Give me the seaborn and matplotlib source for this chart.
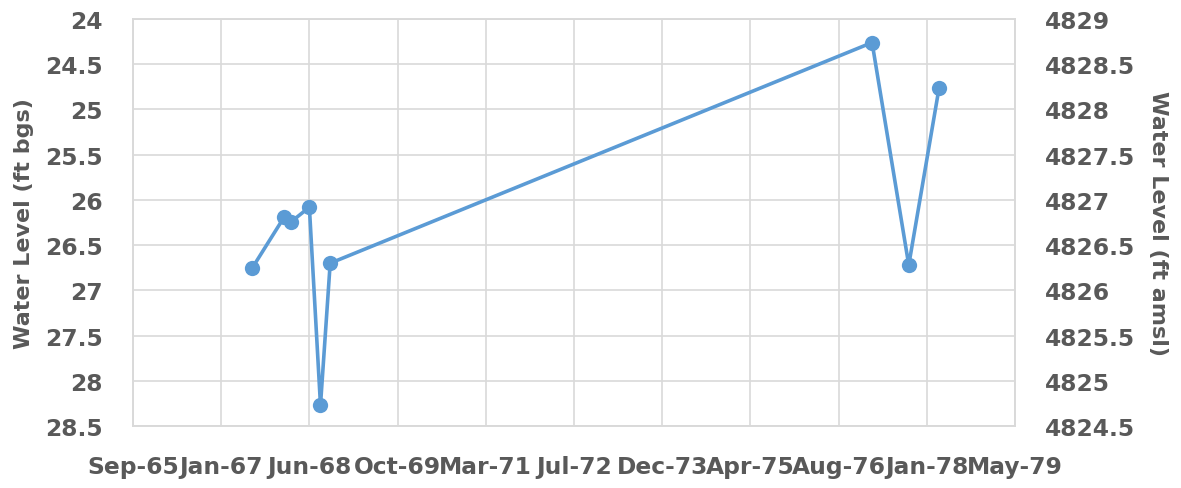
import matplotlib
matplotlib.use("Agg")
import matplotlib.pyplot as plt
import matplotlib.dates as mdates
import numpy as np
import pandas as pd
import seaborn as sns

# Measurement dates and depth to water (ft below ground surface)
dates = ["1967-07-24", "1968-01-20", "1968-03-01", "1968-06-11", "1968-08-13",
         "1968-10-07", "1977-03-06", "1977-09-30", "1978-03-21"]
depth_bgs = [26.75, 26.19, 26.24, 26.08, 28.27, 26.70, 24.26, 26.72, 24.76]

# Axis ranges
bgs_limits = (24.0, 28.5)
amsl_limits = (4824.5, 4829.0)
x_start, x_end = "1965-09-15", "1979-05-25"
tick_step_days = 500

df = pd.DataFrame({"date": pd.to_datetime(dates), "bgs": depth_bgs})

sns.set_theme(style="white")
plt.rcParams["font.family"] = ["DejaVu Sans"]

text_color = "#595959"
grid_color = "#D9D9D9"
line_color = "#5B9BD5"
tick_size = 16.8
label_size = 16

fig = plt.figure(figsize=(11.81, 4.89), dpi=100)
ax = fig.add_axes([0.1126, 0.1268, 0.7468, 0.8322])

sns.lineplot(data=df, x="date", y="bgs", ax=ax, color=line_color, linewidth=2.6,
             marker="o", markersize=11, markeredgewidth=0, sort=False)

bgs_ticks = np.arange(bgs_limits[0], bgs_limits[1] + 0.01, 0.5)
ax.set_ylim(bgs_limits[1], bgs_limits[0])
ax.set_yticks(bgs_ticks)
ax.set_yticklabels([f"{v:g}" for v in bgs_ticks])

start = pd.Timestamp(x_start)
end = pd.Timestamp(x_end)
ticks = pd.date_range(start, end, freq=f"{tick_step_days}D")
ax.set_xlim(start, end)
ax.set_xticks(ticks)
ax.xaxis.set_major_formatter(mdates.DateFormatter("%b-%y"))

ax.grid(True, color=grid_color, linewidth=1.2)
ax.set_axisbelow(True)
for s in ax.spines.values():
    s.set_color(grid_color)
    s.set_linewidth(1.2)

ax.tick_params(axis="both", length=0, labelsize=tick_size, labelcolor=text_color)
ax.tick_params(axis="y", pad=21.5)
ax.tick_params(axis="x", pad=21)
for lab in ax.get_xticklabels() + ax.get_yticklabels():
    lab.set_fontweight("bold")

ax.set_xlabel("")
ax.set_ylabel("Water Level (ft bgs)", fontsize=label_size, fontweight="bold",
              color=text_color, labelpad=8)

ax2 = ax.twinx()
amsl_ticks = np.arange(amsl_limits[0], amsl_limits[1] + 0.01, 0.5)
ax2.set_ylim(*amsl_limits)
ax2.set_yticks(amsl_ticks)
ax2.set_yticklabels([f"{v:g}" for v in amsl_ticks])
ax2.tick_params(axis="y", length=0, labelsize=tick_size, labelcolor=text_color, pad=21.5)
for lab in ax2.get_yticklabels():
    lab.set_fontweight("bold")
for s in ax2.spines.values():
    s.set_color(grid_color)
    s.set_linewidth(1.2)
ax2.grid(False)
ax2.set_ylabel("Water Level (ft amsl)", fontsize=label_size, fontweight="bold",
               color=text_color, rotation=270, labelpad=24)

fig.savefig("out.png", dpi=100)
